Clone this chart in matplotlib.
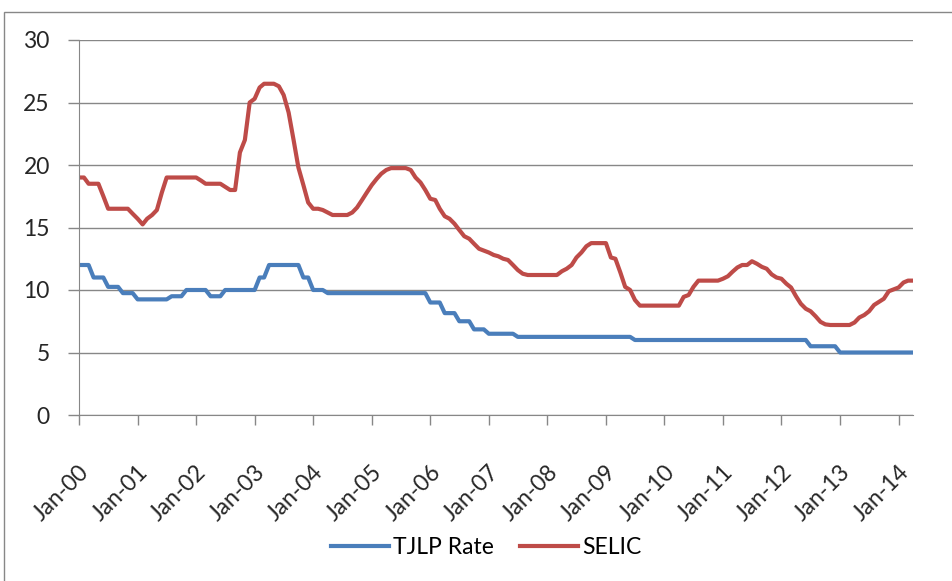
import matplotlib
matplotlib.use("Agg")
import matplotlib.pyplot as plt
import matplotlib.dates as mdates
import matplotlib.transforms as mtransforms
from matplotlib.patches import Rectangle
import pandas as pd

# monthly observations, Jan 2000 - Apr 2014
months = pd.date_range("2000-01-01", "2014-04-01", freq="MS")

tjlp = (
    [12, 12, 12, 11, 11, 11, 10.25, 10.25, 10.25, 9.75, 9.75, 9.75]      # 2000
    + [9.25] * 7 + [9.5] * 3 + [10] * 2                                    # 2001
    + [10] * 3 + [9.5] * 3 + [10] * 6                                      # 2002
    + [10, 11, 11, 12, 12, 12, 12, 12, 12, 12, 11, 11]                     # 2003
    + [10] * 3 + [9.75] * 9                                                # 2004
    + [9.75] * 12                                                          # 2005
    + [9, 9, 9, 8.15, 8.15, 8.15, 7.5, 7.5, 7.5, 6.85, 6.85, 6.85]         # 2006
    + [6.5] * 6 + [6.25] * 6                                               # 2007
    + [6.25] * 12                                                          # 2008
    + [6.25] * 6 + [6] * 6                                                 # 2009
    + [6] * 12                                                             # 2010
    + [6] * 12                                                             # 2011
    + [6] * 6 + [5.5] * 6                                                  # 2012
    + [5] * 12                                                             # 2013
    + [5] * 4                                                              # 2014
)

selic = (
    [19.0, 19.0, 18.5, 18.5, 18.5, 17.5, 16.5, 16.5, 16.5, 16.5, 16.5, 16.1]
    + [15.7, 15.25, 15.7, 16.0, 16.4, 17.8, 19.0, 19.0, 19.0, 19.0, 19.0, 19.0]
    + [19.0, 18.75, 18.5, 18.5, 18.5, 18.5, 18.25, 18.0, 18.0, 21.0, 22.0, 25.0]
    + [25.3, 26.2, 26.5, 26.5, 26.5, 26.3, 25.6, 24.2, 22.0, 19.8, 18.4, 17.0]
    + [16.5, 16.5, 16.4, 16.2, 16.0, 16.0, 16.0, 16.0, 16.2, 16.6, 17.2, 17.8]
    + [18.4, 18.9, 19.3, 19.6, 19.75, 19.75, 19.75, 19.75, 19.6, 19.0, 18.6, 18.0]
    + [17.3, 17.2, 16.5, 15.9, 15.7, 15.3, 14.8, 14.3, 14.1, 13.7, 13.3, 13.15]
    + [13.0, 12.8, 12.7, 12.5, 12.4, 12.0, 11.6, 11.3, 11.2, 11.2, 11.2, 11.2]
    + [11.2, 11.2, 11.2, 11.5, 11.7, 12.0, 12.6, 13.0, 13.5, 13.75, 13.75, 13.75]
    + [13.75, 12.6, 12.5, 11.4, 10.25, 10.0, 9.2, 8.75, 8.75, 8.75, 8.75, 8.75]
    + [8.75, 8.75, 8.75, 8.75, 9.45, 9.6, 10.25, 10.75, 10.75, 10.75, 10.75, 10.75]
    + [10.9, 11.1, 11.45, 11.8, 12.0, 12.0, 12.3, 12.1, 11.85, 11.7, 11.25, 11.0]
    + [10.9, 10.5, 10.2, 9.5, 8.9, 8.5, 8.3, 7.9, 7.45, 7.25, 7.2, 7.2]
    + [7.2, 7.2, 7.2, 7.4, 7.8, 8.0, 8.3, 8.8, 9.05, 9.3, 9.9, 10.05]
    + [10.2, 10.6, 10.75, 10.75]
)

plt.rcParams["font.family"] = ["Lato", "DejaVu Sans"]

grey = "#878787"
W, H = 952, 581
fs = 16.5

fig = plt.figure(figsize=(W / 100, H / 100), dpi=100)
ax = fig.add_axes([79 / W, 1 - 415 / H, (913 - 79) / W, 375 / H])

ax.plot(months, tjlp, color="#4A7EBB", lw=3.0, label="TJLP Rate")
ax.plot(months, selic, color="#BE4B48", lw=3.0, label="SELIC")

ax.set_ylim(0, 30)
ax.set_yticks(range(0, 31, 5))
ax.set_xlim(months[0], months[-1])
ax.xaxis.set_major_locator(mdates.YearLocator())
ax.xaxis.set_major_formatter(mdates.DateFormatter("%b-%y"))

ax.grid(axis="y", color=grey, lw=1)
ax.set_axisbelow(True)
ax.spines["top"].set_visible(False)
ax.spines["right"].set_visible(False)
ax.spines["left"].set_color(grey)
ax.spines["bottom"].set_color(grey)

ax.tick_params(axis="y", colors=grey, length=8, width=1, pad=13,
               labelsize=fs, labelcolor="#262626")
ax.tick_params(axis="x", colors=grey, length=7, width=1, pad=32,
               labelsize=fs, labelcolor="#262626")

shift = mtransforms.ScaledTranslation(7 / 100, 0, fig.dpi_scale_trans)
for lbl in ax.get_xticklabels():
    lbl.set_rotation(45)
    lbl.set_ha("right")
    lbl.set_va("center")
    lbl.set_rotation_mode("anchor")
    lbl.set_transform(lbl.get_transform() + shift)

fig.legend(loc="center", bbox_to_anchor=(486 / W, 1 - 548 / H), ncol=2,
           frameon=False, fontsize=fs, handlelength=2.53, handletextpad=0.16,
           columnspacing=1.17)

# chart area border
fig.patches.append(Rectangle((3.5 / W, -0.1), 1.2, 1.1 - 11.7 / H,
                             transform=fig.transFigure, fill=False,
                             edgecolor=grey, lw=1))

fig.savefig("out.png", dpi=100, facecolor="white")
